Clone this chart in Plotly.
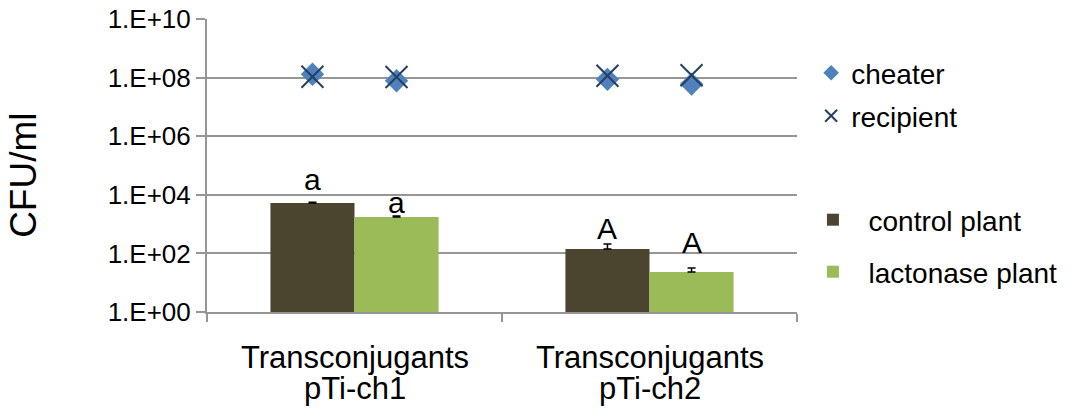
import numpy as np
import plotly.graph_objects as go

# data
categories = ["Transconjugants<br>pTi-ch1", "Transconjugants<br>pTi-ch2"]
control = [5300, 140]
control_err = [300, 70]
lactonase = [1750, 23]
lactonase_err = [150, 9]
# order: ch1 control, ch1 lactonase, ch2 control, ch2 lactonase
cheater = [1.3e8, 7.8e7, 8.7e7, 6.0e7]
recipient = [1.07e8, 1.05e8, 1.15e8, 1.2e8]
letters = ["a", "a", "A", "A"]
y_ticks = [1e0, 1e2, 1e4, 1e6, 1e8, 1e10]
y_ticktext = ["1.E+00", "1.E+02", "1.E+04", "1.E+06", "1.E+08", "1.E+10"]

FONT = "Liberation Sans, Arial, sans-serif"
GRID = "#969696"
BARGAP = 0.43
half = (1 - BARGAP) / 4  # half of one bar width, in category units

# point positions on the numeric overlay axis, centred on each bar
pos = []
for i in range(len(categories)):
    pos += [i - half, i + half]

fig = go.Figure()

fig.add_trace(go.Bar(
    x=categories, y=control, name="\u00a0\u00a0control plant",
    marker=dict(color="#4B4530", line=dict(width=0)),
    error_y=dict(type="data", array=control_err, arrayminus=[0, 0], symmetric=False,
                 color="black", thickness=1.5, width=4),
    legend="legend3",
))
fig.add_trace(go.Bar(
    x=categories, y=lactonase, name="\u00a0\u00a0lactonase plant",
    marker=dict(color="#9BBB59", line=dict(width=0)),
    error_y=dict(type="data", array=lactonase_err, arrayminus=[0, 0], symmetric=False,
                 color="black", thickness=1.5, width=4),
    legend="legend4",
))
fig.add_trace(go.Scatter(
    x=pos, y=cheater, name="cheater", mode="markers", xaxis="x2",
    marker=dict(symbol="diamond", size=18, color="#4F81BD"),
    legend="legend",
))
fig.add_trace(go.Scatter(
    x=pos, y=recipient, name="recipient", mode="markers", xaxis="x2",
    marker=dict(symbol="x-thin", size=22, line=dict(width=2, color="#243F60"), color="#243F60"),
    legend="legend2",
))

# significance letters above the bars
bar_tops = []
for c, l in zip(control, lactonase):
    bar_tops += [c, l]
shifts = [5, -4, 2, 11]
for xp, yv, txt, s in zip(pos, bar_tops, letters, shifts):
    fig.add_annotation(x=xp, y=np.log10(yv), xref="x2", yref="y", text=txt,
                       showarrow=False, yanchor="bottom", yshift=s,
                       font=dict(size=30, color="black", family=FONT))

# category labels, two lines each with the tighter line spacing of the original
for i, cat in enumerate(categories):
    for k, line in enumerate(cat.split("<br>")):
        fig.add_annotation(x=i, y=0, xref="x2", yref="paper", text=line,
                           showarrow=False, yanchor="middle", yshift=-45 - 31 * k,
                           font=dict(size=31, color="black", family=FONT))

fig.add_annotation(x=-0.31, y=0.465, xref="paper", yref="paper", text="CFU/ml",
                   xanchor="center", yanchor="middle",
                   textangle=-90, showarrow=False, font=dict(size=37, color="black", family=FONT))

leg = dict(font=dict(size=28, color="black", family=FONT), bgcolor="rgba(0,0,0,0)",
           itemsizing="constant", xanchor="left", yanchor="middle")
fig.update_layout(
    width=1091, height=410,
    margin=dict(l=207, r=294, t=19, b=98, autoexpand=False),
    plot_bgcolor="white", paper_bgcolor="white",
    barmode="group", bargap=BARGAP, bargroupgap=0,
    showlegend=True,
    legend=dict(x=1.024, y=(73 - 312) / -293, **leg),
    legend2=dict(x=1.024, y=(116 - 312) / -293, **leg),
    legend3=dict(x=1.027, y=(220 - 312) / -293, **leg),
    legend4=dict(x=1.027, y=(272 - 312) / -293, **leg),
    xaxis=dict(type="category", tickson="boundaries", ticks="outside", ticklen=8,
               tickcolor=GRID, tickwidth=2, showline=True, linecolor=GRID, linewidth=2,
               showgrid=False, showticklabels=False),
    xaxis2=dict(overlaying="x", range=[-0.5, 1.5], visible=False),
    yaxis=dict(type="log", range=[0, 10], tickvals=y_ticks, ticktext=y_ticktext,
               ticks="outside", ticklen=9, tickcolor=GRID, tickwidth=2,
               showline=True, linecolor=GRID, linewidth=2,
               showgrid=True, gridcolor=GRID, gridwidth=2, zeroline=False,
               tickfont=dict(size=26, color="black", family=FONT)),
)

fig.write_html("out.html", config={"displayModeBar": False},
               post_script="document.body.style.margin='0';")
